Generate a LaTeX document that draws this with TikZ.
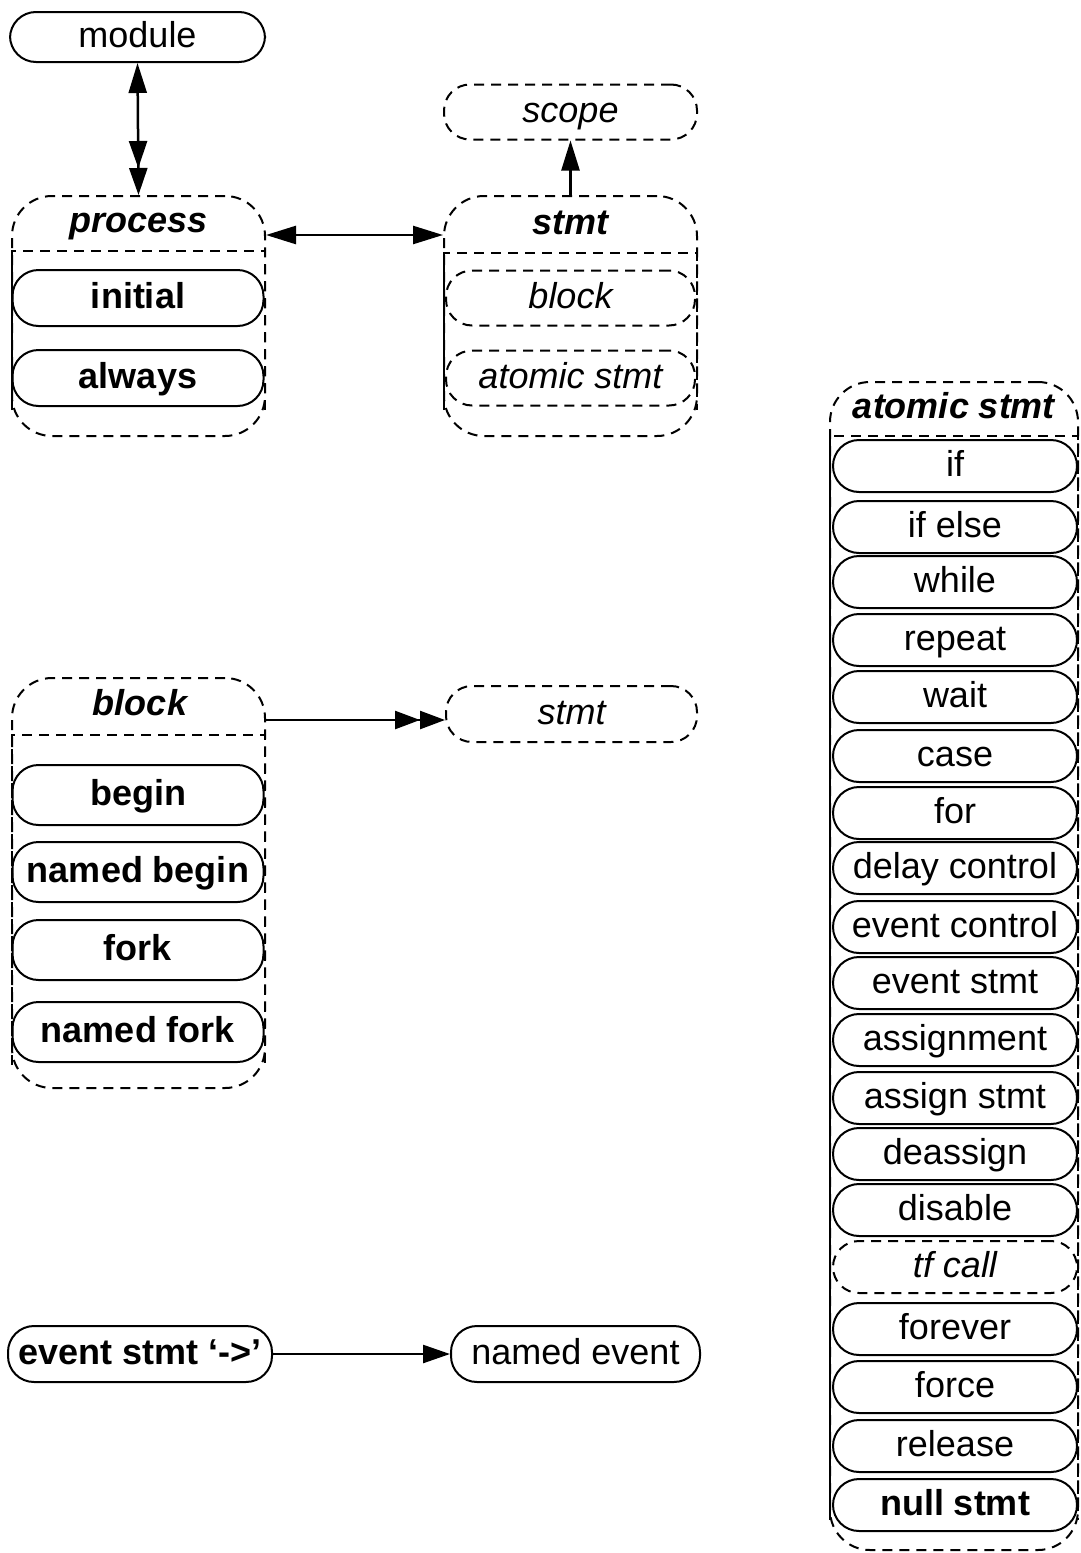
\documentclass[tikz,border=0pt]{standalone}
\usepackage{fontspec}
\setmainfont{Liberation Sans}
\usetikzlibrary{arrows.meta,calc}
\tikzset{
  txt/.style={font=\fontsize{36}{40}\selectfont, text height=27pt, text depth=7pt},
  pill/.style={draw, line width=2pt, rounded corners=26pt, minimum width=251pt, minimum height=56pt, inner sep=0pt, txt},
  bpill/.style={pill, font=\fontsize{36}{40}\selectfont\bfseries},
  dpill/.style={pill, dash pattern=on 10pt off 7pt, font=\fontsize{36}{40}\selectfont\itshape},
  apill/.style={pill, minimum width=244pt, minimum height=52pt},
  abpill/.style={apill, font=\fontsize{36}{40}\selectfont\bfseries},
  adpill/.style={apill, dash pattern=on 10pt off 7pt, font=\fontsize{36}{40}\selectfont\itshape},
  cont/.style={draw, line width=2pt, dash pattern=on 10pt off 7pt, rounded corners=40pt, inner sep=0pt},
  sepline/.style={line width=2pt, dash pattern=on 10pt off 7pt},
  hdr/.style={font=\fontsize{36}{40}\selectfont\bfseries\itshape, text height=27pt, text depth=7pt, inner sep=0pt},
  conn/.style={line width=2.5pt},
}
\begin{document}
\begin{tikzpicture}[x=1pt,y=-1pt]
\useasboundingbox (0,0) rectangle (1080,1553);

% module / process
\node[pill, minimum width=255pt, minimum height=50pt] (module) at (137.5,37) {module};
\node[cont, minimum width=253pt, minimum height=240pt] (procbox) at (138.5,316) {};
\node[hdr] (proch) at (138.5,222) {process};
\draw[sepline] (12,410) -- (12,251) -- (265,251) -- (265,410);
\node[bpill] (initial) at (138,298) {initial};
\node[bpill] (always) at (138,378) {always};

% stmt
\node[dpill, minimum width=253pt, minimum height=55pt] (scope) at (570.5,112) {scope};
\node[cont, minimum width=253pt, minimum height=240pt] (stmtbox) at (570.5,316) {};
\node[hdr] (stmth) at (570.5,224) {stmt};
\draw[sepline] (444,410) -- (444,253) -- (697,253) -- (697,410);
\node[dpill, minimum width=249pt, minimum height=55pt] (sblock) at (570.5,298) {block};
\node[dpill, minimum width=249pt, minimum height=55pt] (satomic) at (570.5,378) {atomic stmt};

\draw[conn, {Triangle[length=30pt,width=18pt]}-{Triangle[length=27pt,width=18pt]Triangle[length=27pt,width=18pt]}] (module.south) -- (procbox.north);
\draw[conn, -{Triangle[length=30pt,width=18pt]}] (stmtbox.north) -- (scope.south);
\coordinate (pa) at ($(procbox.north east)+(0,40)$);
\draw[conn, {Triangle[length=30pt,width=18pt]}-{Triangle[length=30pt,width=18pt]}] (pa) -- (pa -| stmtbox.west);

% block
\node[cont, minimum width=253pt, minimum height=410pt] (blockbox) at (138.5,883) {};
\node[hdr] (blockh) at (140,705) {block};
\draw[sepline] (12,1065) -- (12,735) -- (265,735) -- (265,1065);
\node[bpill, minimum height=60pt] (begin) at (138,795) {begin};
\node[bpill, minimum height=60pt] (nbegin) at (138,872) {named begin};
\node[bpill, minimum height=60pt] (fork) at (138,950) {fork};
\node[bpill, minimum height=60pt] (nfork) at (138,1032) {named fork};
\node[dpill] (stmt2) at (571.5,714) {stmt};
\coordinate (ba) at ($(blockbox.north east)+(0,43)$);
\draw[conn, -{Triangle[length=25pt,width=18pt]Triangle[length=25pt,width=18pt]}] (ba) -- (ba -| stmt2.west);

% event
\node[bpill, minimum width=264pt] (evs) at (140,1354) {event stmt ‘->’};
\node[pill, minimum width=249pt] (nev) at (575.5,1354) {named event};
\draw[conn, -{Triangle[length=27pt,width=18pt]}] (evs.east) -- (nev.west);

% atomic stmt
\node[cont, minimum width=248pt, minimum height=1168pt] (atombox) at (954,966) {};
\node[hdr] (atomh) at (954,408) {atomic stmt};
\draw[sepline] (830,1520) -- (830,436) -- (1078,436) -- (1078,1520);
\foreach \t/\y/\st [count=\i] in {if/466/apill, if else/527/apill, while/582/apill, repeat/640/apill, wait/697/apill, case/756/apill, for/813/apill, delay control/868/apill, event control/927/apill, event stmt/983/apill, assignment/1040/apill, assign stmt/1098/apill, deassign/1154/apill, disable/1210/apill, tf call/1267/adpill, forever/1329/apill, force/1387/apill, release/1446/apill, null stmt/1505/abpill}
  \node[\st] (a\i) at (955,\y) {\t};
\end{tikzpicture}
\end{document}
